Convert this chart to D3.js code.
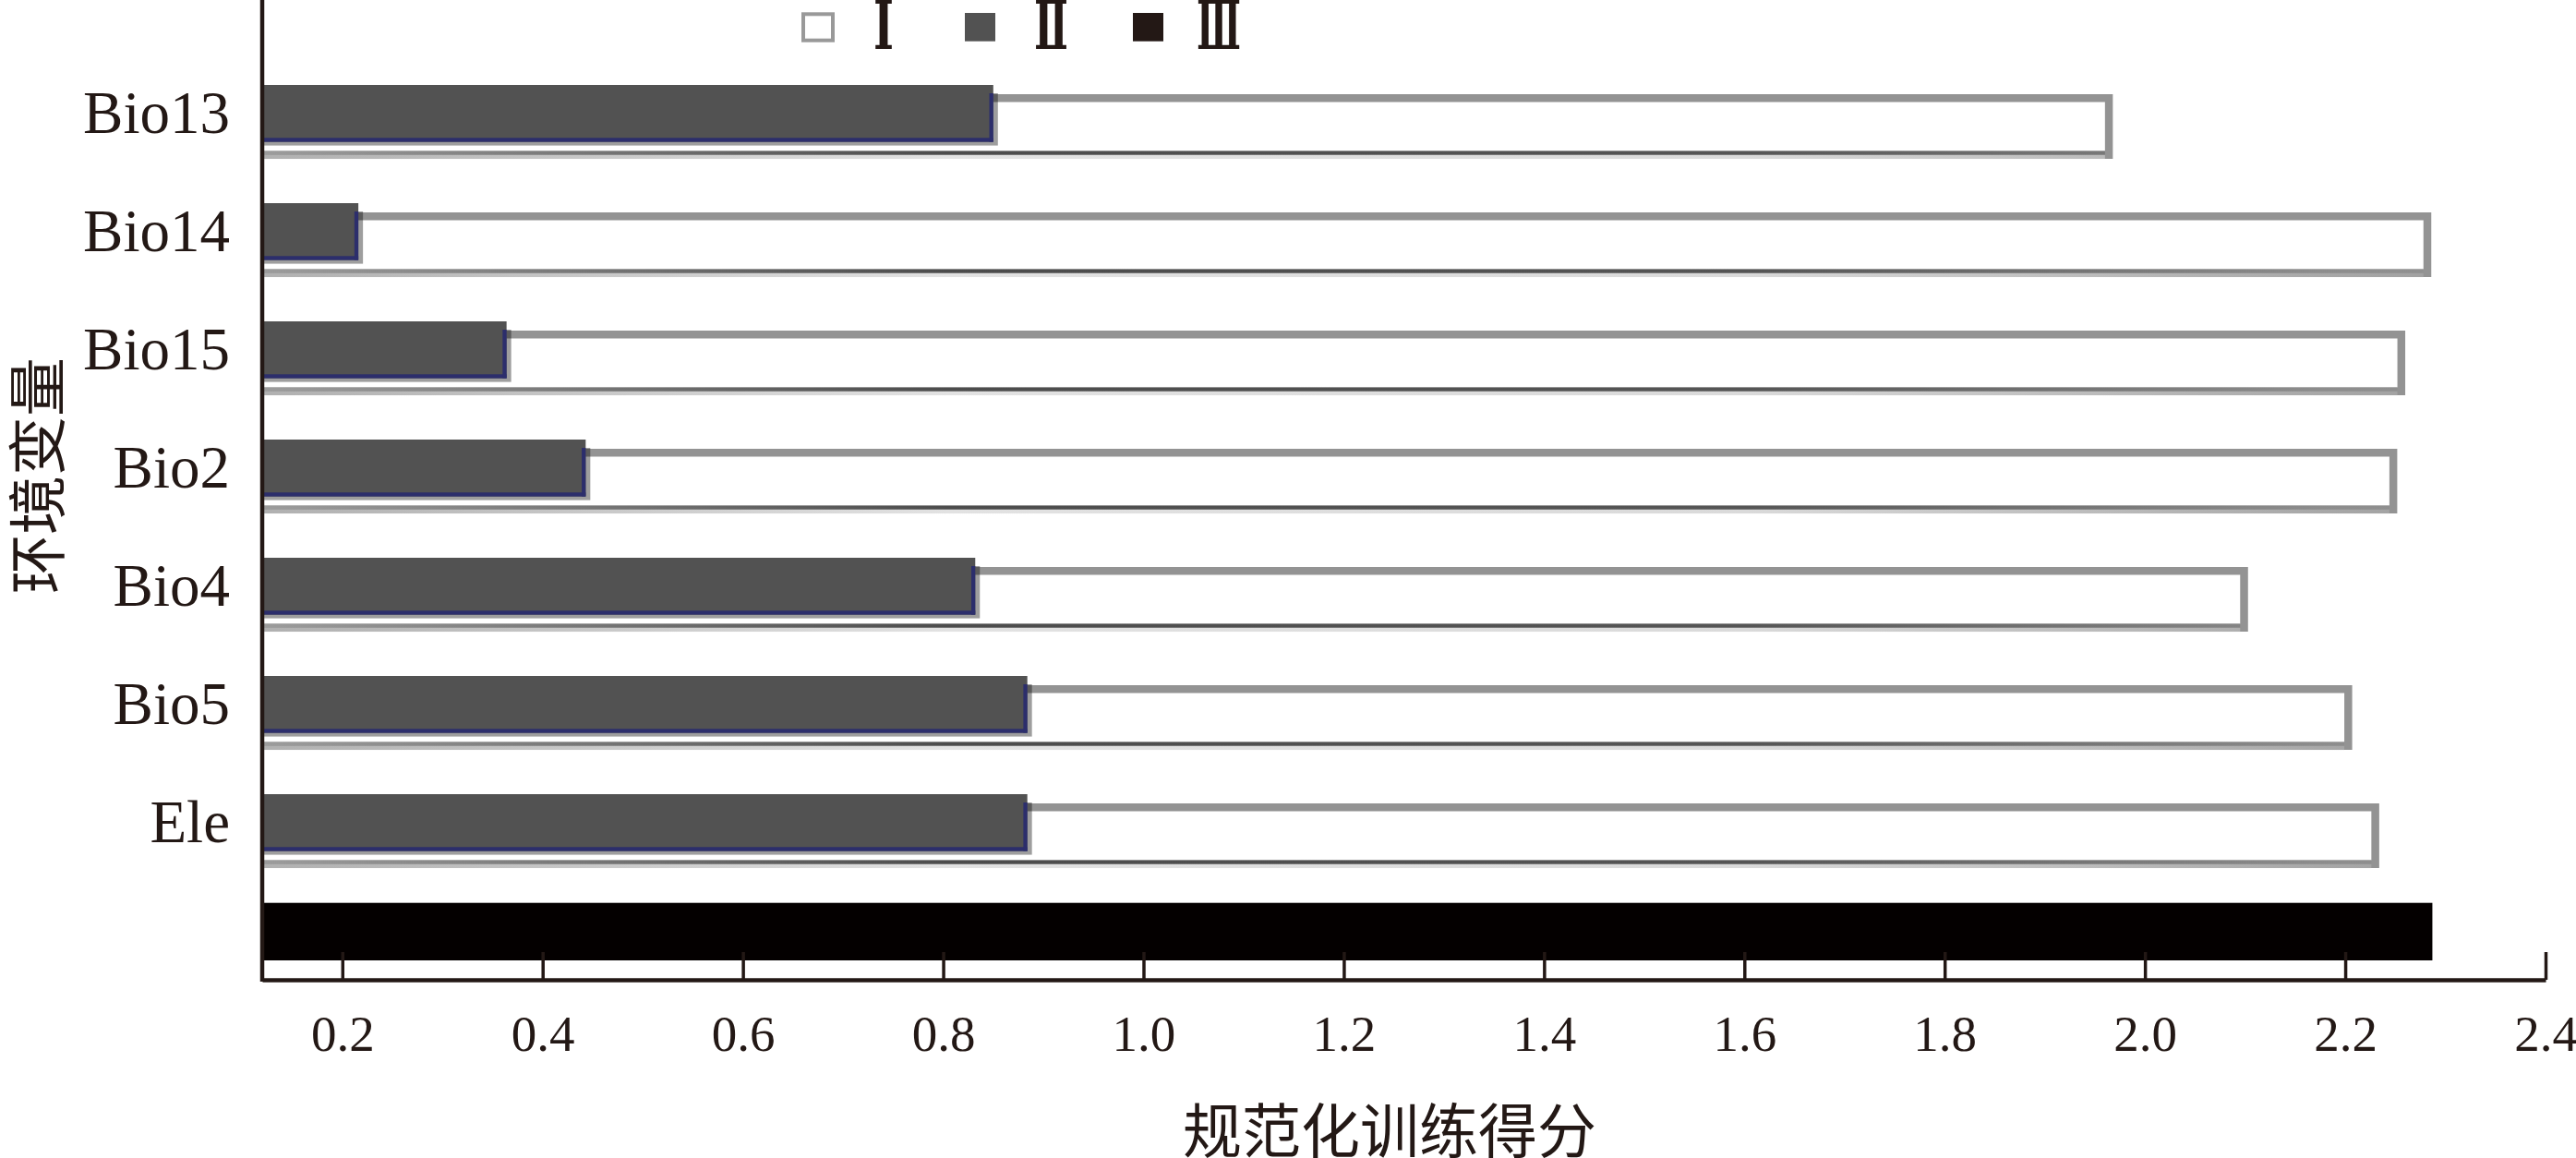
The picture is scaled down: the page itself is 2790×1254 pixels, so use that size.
<!DOCTYPE html>
<html>
<head>
<meta charset="utf-8">
<script src="https://cdn.jsdelivr.net/npm/d3@7"></script>
<style>
  html, body { margin: 0; padding: 0; background: #ffffff; }
  svg { display: block; }
</style>
</head>
<body>
<div id="chart"></div>
<script>
// ---- data ----
const categories = ["Bio13", "Bio14", "Bio15", "Bio2", "Bio4", "Bio5", "Ele", ""];
const seriesI   = [1.964, 2.282, 2.256, 2.248, 2.099, 2.203, 2.230, null];
const seriesII  = [0.850, 0.216, 0.364, 0.443, 0.832, 0.884, 0.884, null];
const seriesIII = [null, null, null, null, null, null, null, 2.287];
const xTickValues = [0.2, 0.4, 0.6, 0.8, 1.0, 1.2, 1.4, 1.6, 1.8, 2.0, 2.2, 2.4];
const xDomain = [0.12, 2.4];
const legendLabels = ["Ⅰ", "Ⅱ", "Ⅲ"];
const xTitle = "规范化训练得分";
const yTitle = "环境变量";

// ---- layout ----
const W = 2790, H = 1254;
const axisX = 284, axisY = 1061, rightX = 2757;
const textColor = "#231815";

const svg = d3.select("#chart").append("svg")
  .attr("width", W).attr("height", H)
  .attr("viewBox", `0 0 ${W} ${H}`);

const x = d3.scaleLinear().domain(xDomain).range([axisX, rightX]);
const y = d3.scaleBand().domain(categories).range([58.8, 1082.8]).padding(0);
const cy = c => y(c) + y.bandwidth() / 2;

// gradients for the bottom edge of series I bars
const defs = svg.append("defs");
const gTop = defs.append("linearGradient").attr("id", "edgeTop")
  .attr("gradientUnits", "userSpaceOnUse").attr("x1", axisX).attr("x2", rightX).attr("y1", 0).attr("y2", 0);
[[0, "#9c9c9c"], [0.3, "#4c4c4c"], [0.65, "#555555"], [0.9, "#8c8c8c"], [1, "#959595"]]
  .forEach(([o, c]) => gTop.append("stop").attr("offset", o).attr("stop-color", c));
const gBot = defs.append("linearGradient").attr("id", "edgeBot")
  .attr("gradientUnits", "userSpaceOnUse").attr("x1", axisX).attr("x2", rightX).attr("y1", 0).attr("y2", 0);
[[0, "#b0b0b0"], [0.3, "#e2e2e2"], [0.65, "#dadada"], [0.9, "#a8a8a8"], [1, "#9a9a9a"]]
  .forEach(([o, c]) => gBot.append("stop").attr("offset", o).attr("stop-color", c));

const rowsI = categories.map((c, i) => ({ c, v: seriesI[i] })).filter(d => d.v != null);
const rowsII = categories.map((c, i) => ({ c, v: seriesII[i] })).filter(d => d.v != null);
const rowsIII = categories.map((c, i) => ({ c, v: seriesIII[i] })).filter(d => d.v != null);

// series I: white bars with grey outline (no left side)
const sw = 8.5;
const gI = svg.append("g");
gI.selectAll("rect.fillI").data(rowsI).join("rect")
  .attr("x", x(xDomain[0])).attr("y", d => cy(d.c) - 16.5)
  .attr("width", d => x(d.v) - x(xDomain[0])).attr("height", 61.5)
  .attr("fill", "#ffffff");
gI.selectAll("path.outlineI").data(rowsI).join("path")
  .attr("d", d => {
    const t = cy(d.c) - 16.5, b = cy(d.c) + 45, x0 = x(xDomain[0]) + 2, xr = x(d.v);
    return `M${x0},${t}H${xr}V${b}H${x0}`;
  })
  .attr("fill", "none").attr("stroke", "#939393").attr("stroke-width", sw)
  .attr("stroke-linejoin", "miter");
// shaded bottom edge
gI.selectAll("rect.edgeT").data(rowsI).join("rect")
  .attr("x", x(xDomain[0]) + 2).attr("y", d => cy(d.c) + 45 - sw / 2)
  .attr("width", d => x(d.v) - x(xDomain[0]) - 2 - sw / 2).attr("height", sw / 2)
  .attr("fill", "url(#edgeTop)");
gI.selectAll("rect.edgeB").data(rowsI).join("rect")
  .attr("x", x(xDomain[0]) + 2).attr("y", d => cy(d.c) + 45)
  .attr("width", d => x(d.v) - x(xDomain[0]) - 2 - sw / 2).attr("height", sw / 2)
  .attr("fill", "url(#edgeBot)");

// series II: dark bars with shadow and blue edge
const gII = svg.append("g");
gII.selectAll("rect.shadow").data(rowsII).join("rect")
  .attr("x", x(xDomain[0])).attr("y", d => cy(d.c) - 30.8 + 9)
  .attr("width", d => x(d.v) - x(xDomain[0]) + 5).attr("height", 61.6 - 9 + 4)
  .attr("fill", "#000000").attr("fill-opacity", 0.38);
gII.selectAll("rect.bar").data(rowsII).join("rect")
  .attr("x", x(xDomain[0])).attr("y", d => cy(d.c) - 30.8)
  .attr("width", d => x(d.v) - x(xDomain[0])).attr("height", 61.6)
  .attr("fill", "#525252");
gII.selectAll("rect.blueB").data(rowsII).join("rect")
  .attr("x", x(xDomain[0])).attr("y", d => cy(d.c) + 30.8 - 4.3)
  .attr("width", d => x(d.v) - x(xDomain[0])).attr("height", 4.3)
  .attr("fill", "#2c2e6c");
gII.selectAll("rect.blueR").data(rowsII).join("rect")
  .attr("x", d => x(d.v) - 4.3).attr("y", d => cy(d.c) - 30.8 + 9)
  .attr("width", 4.3).attr("height", 61.6 - 9)
  .attr("fill", "#2c2e6c");

// series III: black bar
svg.append("g").selectAll("rect").data(rowsIII).join("rect")
  .attr("x", x(xDomain[0])).attr("y", d => cy(d.c) - 41.1)
  .attr("width", d => x(d.v) - x(xDomain[0])).attr("height", 62.3)
  .attr("fill", "#040000");

// x axis
const xAxis = d3.axisBottom(x)
  .tickValues(xTickValues)
  .tickFormat(d3.format(".1f"))
  .tickSizeInner(-30).tickSizeOuter(0).tickPadding(0);
const gx = svg.append("g").attr("transform", `translate(0,${axisY})`).call(xAxis);
gx.select(".domain").attr("stroke", textColor).attr("stroke-width", 4.5);
gx.selectAll(".tick line").attr("stroke", textColor).attr("stroke-width", 3.5);
gx.selectAll(".tick text")
  .attr("y", 77).attr("dy", null)
  .attr("fill", textColor)
  .style("font-family", "'Liberation Serif', 'Times New Roman', serif")
  .style("font-size", "55px");

// y axis
const yAxis = d3.axisLeft(y).tickSize(0).tickPadding(35);
const gy = svg.append("g").attr("transform", `translate(${axisX},0)`).call(yAxis);
gy.select(".domain").remove();
gy.selectAll(".tick text")
  .attr("dy", null).attr("y", 21.5)
  .attr("fill", textColor)
  .style("font-family", "'Liberation Serif', 'Times New Roman', serif")
  .style("font-size", "65px");
svg.append("line")
  .attr("x1", axisX).attr("x2", axisX).attr("y1", 0).attr("y2", axisY + 2)
  .attr("stroke", textColor).attr("stroke-width", 4.5);

// axis titles
svg.append("text")
  .attr("x", 1505).attr("y", 1220)
  .attr("text-anchor", "middle").attr("dominant-baseline", "central")
  .attr("fill", textColor)
  .style("font-family", "'Noto Sans CJK SC', sans-serif")
  .style("font-size", "64px")
  .text(xTitle);
svg.append("text")
  .attr("transform", "translate(36,515) rotate(-90)")
  .attr("text-anchor", "middle").attr("dominant-baseline", "central")
  .attr("fill", textColor)
  .style("font-family", "'Noto Sans CJK SC', sans-serif")
  .style("font-size", "64px")
  .text(yTitle);

// legend
const legendSwatch = [
  { fill: "#ffffff", stroke: "#999999", sx: 870, sy: 15.3, w: 32, h: 28.4, tx: 946, tw: 22 },
  { fill: "#525252", stroke: "none",    sx: 1045, sy: 14, w: 33, h: 30.7, tx: 1120, tw: 37 },
  { fill: "#231815", stroke: "none",    sx: 1227, sy: 14, w: 33, h: 30.7, tx: 1296, tw: 48 }
];
const gl = svg.append("g");
legendLabels.forEach((lab, i) => {
  const s = legendSwatch[i];
  gl.append("rect").attr("x", s.sx).attr("y", s.sy).attr("width", s.w).attr("height", s.h)
    .attr("fill", s.fill).attr("stroke", s.stroke).attr("stroke-width", 4);
  gl.append("text").attr("x", s.tx).attr("y", 52.5)
    .attr("textLength", s.tw).attr("lengthAdjust", "spacingAndGlyphs")
    .attr("fill", textColor)
    .style("font-family", "'DejaVu Serif', serif")
    .style("font-weight", "bold")
    .style("font-size", "72px")
    .text(lab);
});
</script>
</body>
</html>
